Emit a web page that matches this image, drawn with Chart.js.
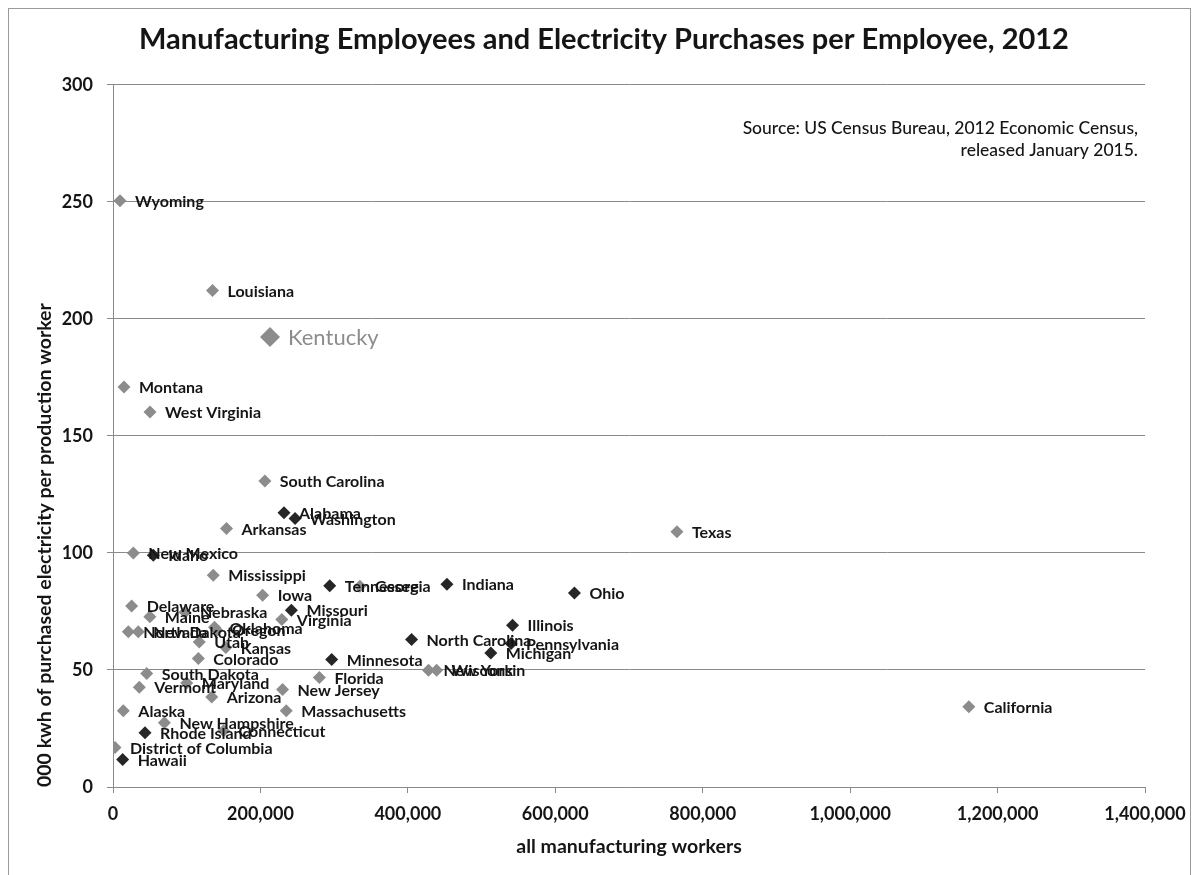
<!DOCTYPE html>
<html>
<head>
<meta charset="utf-8">
<script src="https://cdn.jsdelivr.net/npm/chart.js@4.4.0/dist/chart.umd.min.js"></script>
<style>
html,body{margin:0;padding:0;background:#fff;}
#wrap{position:relative;width:1197px;height:875px;}
</style>
</head>
<body>
<div id="wrap"><canvas id="c" width="1197" height="875"></canvas></div>
<script>
// ---- data ----
const states = [
  'Wyoming','Louisiana','Kentucky','Montana','West Virginia','South Carolina','Alabama','Washington',
  'Arkansas','Texas','New Mexico','Idaho','Mississippi','Iowa','Tennessee','Georgia','Indiana','Ohio',
  'Delaware','Missouri','Virginia','Maine','Nebraska','Oklahoma','Oregon','North Dakota','Nevada',
  'Utah','Kansas','Colorado','Minnesota','North Carolina','Illinois','Pennsylvania','Michigan',
  'New York','Wisconsin','Florida','New Jersey','Massachusetts','South Dakota','Vermont','Maryland',
  'Arizona','Alaska','New Hampshire','Rhode Island','Connecticut','District of Columbia','Hawaii','California'
];
const workers = [
  9500, 135000, 213000, 14900, 50200, 206000, 232000, 247000,
  154000, 765000, 27600, 54700, 136000, 203000, 294000, 335000, 453000, 626000,
  25300, 242000, 229000, 50000, 97700, 137700, 141000, 20800, 34300,
  117000, 153000, 115800, 296700, 405000, 542000, 540000, 512500,
  428000, 439000, 280000, 230000, 235000, 45700, 35700, 100000,
  134000, 14000, 69700, 43400, 150000, 2700, 13100, 1161000
];
const kwhPerWorker = [
  250.5, 212.1, 192.2, 170.9, 160.2, 130.7, 117.2, 114.7,
  110.4, 109.0, 100.0, 99.0, 90.5, 81.9, 86.0, 85.8, 86.6, 82.9,
  77.3, 75.5, 71.6, 72.7, 74.7, 68.2, 67.0, 66.3, 66.3,
  62.0, 59.6, 54.9, 54.5, 63.0, 69.1, 61.3, 57.3,
  49.9, 49.9, 46.8, 41.7, 32.6, 48.5, 42.6, 44.4,
  38.5, 32.6, 27.4, 23.2, 24.0, 16.9, 11.8, 34.3
];
const darkMarkerStates = [
  'Alabama','Washington','Idaho','Tennessee','Indiana','Ohio','Missouri','Minnesota',
  'North Carolina','Illinois','Pennsylvania','Michigan','Rhode Island','Hawaii'
];
const featuredState = 'Kentucky';
const xTickValues = [0, 200000, 400000, 600000, 800000, 1000000, 1200000, 1400000];
const yTickValues = [0, 50, 100, 150, 200, 250, 300];
const chartTitle = 'Manufacturing Employees and Electricity Purchases per Employee, 2012';
const sourceLines = ['Source: US Census Bureau, 2012 Economic Census,', 'released January 2015.'];
const xTitle = 'all manufacturing workers';
const yTitle = '000 kwh of purchased electricity per production worker';

// ---- styles ----
const FONT = 'Lato';
const DARK = '#262626';
const GREY = '#8c8c8c';
const GRID = '#8a8a8a';
const TEXT = '#151515';

const points = states.map((s, i) => ({ x: workers[i], y: kwhPerWorker[i], name: s }));

const framePlugin = {
  id: 'frame',
  beforeDraw(chart) {
    const ctx = chart.ctx;
    ctx.save();
    ctx.fillStyle = '#fff';
    ctx.fillRect(0, 0, chart.width, chart.height);
    ctx.strokeStyle = '#9a9a9a';
    ctx.lineWidth = 1;
    ctx.strokeRect(8.5, 8.5, 1182, 880);
    ctx.restore();
  }
};

const labelPlugin = {
  id: 'pointLabels',
  afterDatasetsDraw(chart) {
    const ctx = chart.ctx;
    const meta = chart.getDatasetMeta(0);
    ctx.save();
    ctx.textBaseline = 'middle';
    ctx.textAlign = 'left';
    meta.data.forEach((el, i) => {
      const name = states[i];
      if (name === featuredState) {
        ctx.font = `normal 22px ${FONT}`;
        ctx.fillStyle = GREY;
        ctx.fillText(name, el.x + 18, el.y + 1);
      } else {
        ctx.font = `bold 16px ${FONT}`;
        ctx.fillStyle = TEXT;
        ctx.fillText(name, el.x + 15, el.y + 1);
      }
    });
    ctx.restore();
  }
};

const sourcePlugin = {
  id: 'sourceNote',
  afterDraw(chart) {
    const ctx = chart.ctx;
    const a = chart.chartArea;
    ctx.save();
    ctx.font = `500 17.5px ${FONT}`;
    ctx.fillStyle = TEXT;
    ctx.textAlign = 'right';
    ctx.textBaseline = 'middle';
    ctx.fillText(sourceLines[0], a.right - 7, 128);
    ctx.fillText(sourceLines[1], a.right - 7, 150);
    ctx.restore();
  }
};

new Chart(document.getElementById('c'), {
  type: 'scatter',
  data: {
    datasets: [{
      data: points,
      pointStyle: 'rectRot',
      pointRadius: ctx => (ctx.raw && ctx.raw.name === featuredState) ? 10 : 6.5,
      backgroundColor: ctx => (ctx.raw && darkMarkerStates.includes(ctx.raw.name)) ? DARK : GREY,
      borderWidth: 0
    }]
  },
  options: {
    responsive: false,
    animation: false,
    devicePixelRatio: 1,
    layout: { padding: { left: 11, right: 0, top: 0, bottom: 0 } },
    plugins: {
      legend: { display: false },
      tooltip: { enabled: false },
      title: {
        display: true,
        text: chartTitle,
        color: TEXT,
        font: { family: FONT, weight: 'bold', size: 29, lineHeight: 1.2 },
        padding: { top: 22, bottom: 28 }
      }
    },
    scales: {
      x: {
        type: 'linear',
        min: 0, max: 1400000,
        afterBuildTicks: s => { s.ticks = xTickValues.map(v => ({ value: v })); },
        ticks: {
          callback: v => Number(v).toLocaleString('en-US'),
          font: { family: FONT, weight: 'bold', size: 18 },
          color: TEXT, padding: 10, maxRotation: 0, autoSkip: false
        },
        grid: { drawOnChartArea: false, tickLength: 6, color: GRID },
        border: { color: GRID },
        title: {
          display: true, text: xTitle, color: TEXT,
          font: { family: FONT, weight: 'bold', size: 19.5, lineHeight: 1.2 },
          padding: { top: 6, bottom: 17 }
        },
        afterFit: s => { s.height = 88; }
      },
      y: {
        type: 'linear',
        min: 0, max: 300,
        afterBuildTicks: s => { s.ticks = yTickValues.map(v => ({ value: v })); },
        ticks: {
          font: { family: FONT, weight: 'bold', size: 18 },
          color: TEXT, padding: 14
        },
        grid: { color: GRID, tickLength: 6 },
        border: { color: GRID },
        title: {
          display: true, text: yTitle, color: TEXT, align: 'start',
          font: { family: FONT, weight: 'bold', size: 19.5, lineHeight: 1.2 },
          padding: { top: 22, bottom: 0 }
        },
        afterFit: s => { s.width = 102; }
      },
      yRight: {
        type: 'linear',
        position: 'right',
        display: true,
        ticks: { display: false },
        grid: { display: false },
        border: { display: false },
        afterFit: s => { s.width = 52; }
      }
    }
  },
  plugins: [framePlugin, labelPlugin, sourcePlugin]
});
</script>
</body>
</html>
